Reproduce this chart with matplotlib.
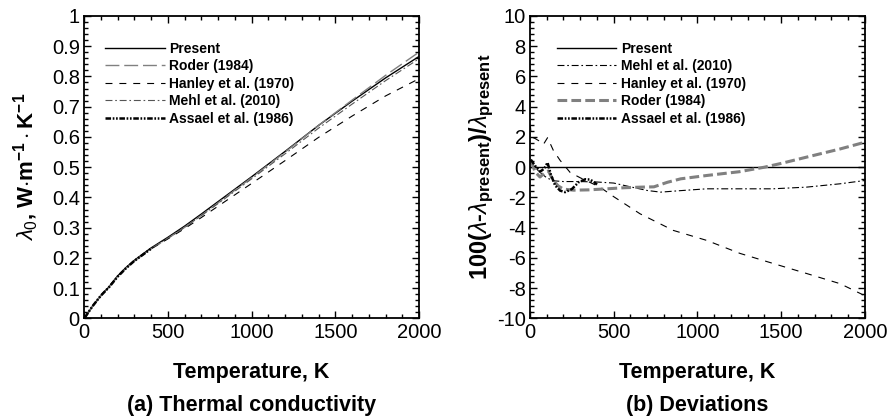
import numpy as np
import matplotlib
matplotlib.use("Agg")
import matplotlib.pyplot as plt
from matplotlib.ticker import MultipleLocator

plt.rcParams["font.family"] = ["Liberation Sans Narrow", "Liberation Sans", "DejaVu Sans"]
plt.rcParams["mathtext.fontset"] = "custom"
plt.rcParams["mathtext.rm"] = "Liberation Sans"
plt.rcParams["mathtext.it"] = "Liberation Sans:italic"
plt.rcParams["mathtext.bf"] = "Liberation Sans:bold"
plt.rcParams["lines.scale_dashes"] = False
plt.rcParams["axes.unicode_minus"] = False

# (a) thermal conductivity, W/(m K)
T_a = [5, 50, 100, 150, 200, 250, 300, 400, 500, 600, 700, 800, 900, 1000,
       1200, 1400, 1600, 1800, 2000]
lam_present = [0.003, 0.040, 0.075, 0.105, 0.140, 0.168, 0.192, 0.233, 0.268,
               0.305, 0.345, 0.386, 0.427, 0.468, 0.552, 0.638, 0.718, 0.795, 0.866]
lam_roder = [0.003, 0.0398, 0.0748, 0.104, 0.138, 0.1655, 0.189, 0.2296, 0.2642,
             0.3009, 0.3405, 0.3818, 0.4238, 0.4652, 0.5498, 0.638, 0.7216, 0.8033, 0.8803]
lam_hanley = [0.003, 0.0407, 0.0764, 0.106, 0.1403, 0.1673, 0.1907, 0.2302, 0.2628,
              0.2968, 0.3334, 0.3709, 0.4084, 0.446, 0.5216, 0.5984, 0.6688, 0.7354, 0.7924]
lam_mehl = [0.003, 0.0399, 0.0745, 0.1041, 0.1387, 0.1664, 0.1902, 0.2307, 0.2652,
            0.301, 0.3397, 0.3797, 0.4204, 0.4612, 0.5441, 0.6289, 0.7083, 0.7859, 0.8584]
T_assael_a = [5, 50, 100, 150, 200, 250, 300, 400]
lam_assael = [0.003, 0.0399, 0.0752, 0.1037, 0.1377, 0.1656, 0.1901, 0.2303]

# (b) deviations, percent
T_present_b = [0, 2000]
dev_present = [0, 0]
T_mehl_b = [5, 30, 60, 100, 140, 200, 300, 400, 500, 600, 700, 780, 900, 1055,
            1250, 1450, 1650, 1850, 2000]
dev_mehl = [0.3, 0.0, -0.35, -0.7, -0.9, -0.95, -0.95, -0.98, -1.05, -1.3, -1.54,
            -1.65, -1.55, -1.43, -1.43, -1.43, -1.32, -1.1, -0.88]
T_hanley_b = [2, 8, 30, 60, 80, 105, 140, 180, 240, 300, 418, 500, 657, 856, 1055,
              1254, 1453, 1652, 1851, 2000]
dev_hanley = [2.8, 2.0, 1.9, 1.7, 1.5, 1.95, 1.1, 0.45, -0.35, -0.7, -1.32, -1.95,
              -3.08, -4.18, -4.84, -5.7, -6.37, -7.03, -7.7, -8.5]
T_roder_b = [8, 30, 60, 85, 110, 140, 170, 200, 260, 350, 460, 560, 660, 740, 820,
             900, 1055, 1250, 1400, 1500, 1650, 1850, 2000]
dev_roder = [0.4, -0.3, -0.65, -0.4, -0.25, -0.9, -1.25, -1.45, -1.52, -1.5, -1.43,
             -1.36, -1.32, -1.3, -1.0, -0.77, -0.55, -0.3, 0.0, 0.25, 0.66, 1.2, 1.65]
T_assael_b = [5, 30, 60, 85, 105, 125, 150, 180, 210, 250, 290, 330, 360, 390, 400]
dev_assael = [0.5, 0.1, -0.3, -0.1, 0.3, -0.5, -1.2, -1.55, -1.65, -1.45, -1.0, -0.8,
              -0.82, -1.05, -1.15]

BOLD = dict(fontweight="bold")
ASSAEL_DASH = (4, 1.2, 1.2, 1.2, 1.2, 1.2)
MEHL_DASH = (5, 2, 1.2, 2)


def style_axes(ax, ylim, ymajor):
    ax.set_xlim(0, 2000)
    ax.set_ylim(*ylim)
    ax.xaxis.set_major_locator(MultipleLocator(500))
    ax.xaxis.set_minor_locator(MultipleLocator(100))
    ax.yaxis.set_major_locator(MultipleLocator(ymajor))
    ax.yaxis.set_minor_locator(MultipleLocator(ymajor / 5))
    ax.tick_params(which="both", direction="in", top=True, right=True, width=1.0)
    ax.tick_params(which="major", length=5, labelsize=14.5, pad=3)
    ax.tick_params(which="minor", length=3)
    for s in ax.spines.values():
        s.set_linewidth(1.3)
    ax.set_xlabel("Temperature, K", fontsize=15.5, labelpad=15, **BOLD)


fig = plt.figure(figsize=(8.94, 4.19), dpi=100)
ax1 = fig.add_axes([0.094, 0.240, 0.3747, 0.722])
ax2 = fig.add_axes([0.5928, 0.240, 0.3747, 0.722])

# panel (a)
ax1.plot(T_a, lam_present, color="black", lw=1.0, label="Present")
ax1.plot(T_a, lam_roder, color="#808080", lw=1.0, dashes=(10, 3.5), label="Roder (1984)")
ax1.plot(T_a, lam_hanley, color="black", lw=0.8, dashes=(5, 5), label="Hanley et al. (1970)")
ax1.plot(T_a, lam_mehl, color="#555555", lw=0.8, dashes=MEHL_DASH, label="Mehl et al. (2010)")
ax1.plot(T_assael_a, lam_assael, color="black", lw=1.8, dashes=ASSAEL_DASH,
         label="Assael et al. (1986)")
style_axes(ax1, (0, 1), 0.1)
ax1.set_yticklabels([f"{v:g}" for v in ax1.get_yticks()])
ax1.set_ylabel(r"$\lambda_0$, W$\cdot$m$^{\mathbf{-1}}\cdot$K$^{\mathbf{-1}}$",
               fontsize=16, labelpad=8, **BOLD)

# panel (b)
ax2.plot(T_present_b, dev_present, color="black", lw=1.0, label="Present")
ax2.plot(T_mehl_b, dev_mehl, color="black", lw=0.8, dashes=MEHL_DASH, label="Mehl et al. (2010)")
ax2.plot(T_hanley_b, dev_hanley, color="black", lw=0.8, dashes=(5, 5), label="Hanley et al. (1970)")
ax2.plot(T_roder_b, dev_roder, color="#808080", lw=2.2, dashes=(7, 3), label="Roder (1984)")
ax2.plot(T_assael_b, dev_assael, color="black", lw=1.8, dashes=ASSAEL_DASH,
         label="Assael et al. (1986)")
style_axes(ax2, (-10, 10), 2)
ax2.set_ylabel(r"100($\lambda$-$\lambda_{\mathbf{present}}$)/$\lambda_{\mathbf{present}}$",
               fontsize=17, labelpad=1, **BOLD)

for ax, x0 in ((ax1, 0.063), (ax2, 0.08)):
    ax.legend(loc="upper left", bbox_to_anchor=(x0, 0.915), frameon=False,
              handlelength=4.3, handletextpad=0.3, labelspacing=0.25,
              borderpad=0, borderaxespad=0,
              prop=dict(family=["Liberation Sans", "DejaVu Sans"], weight="bold", size=10))

fig.text(0.281, 0.02, "(a) Thermal conductivity", ha="center", fontsize=15.5, **BOLD)
fig.text(0.780, 0.02, "(b) Deviations", ha="center", fontsize=15.5, **BOLD)

fig.savefig("out.png", dpi=100)
